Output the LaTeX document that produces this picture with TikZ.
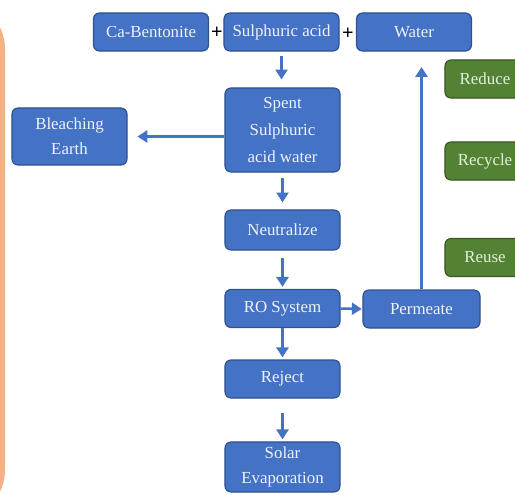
\documentclass[tikz,border=0pt]{standalone}
\usepackage{fontspec}
\setmainfont{Liberation Serif}
\usetikzlibrary{arrows.meta}
\definecolor{boxblue}{HTML}{4472C4}
\definecolor{boxedge}{HTML}{2F528F}
\definecolor{boxgreen}{HTML}{548235}
\definecolor{greenedge}{HTML}{385723}
\definecolor{sidebar}{HTML}{F4B183}
\definecolor{bluetext}{HTML}{EEF2FA}
\definecolor{greentext}{HTML}{E2F0D9}

\begin{document}
\begin{tikzpicture}[x=0.025cm,y=-0.025cm,
    box/.style={draw=boxedge,line width=0.8pt,fill=boxblue,rounded corners=0.15cm,
        text=bluetext,align=center,inner sep=0pt,
        minimum width=2.875cm,minimum height=0.95cm,
        font=\fontsize{12}{18}\selectfont},
    gbox/.style={box,draw=greenedge,fill=boxgreen,text=greentext,minimum width=2cm},
    flow/.style={draw=boxblue,line width=1.8pt,-{Triangle[width=8.5pt,length=7pt]}}]
    \useasboundingbox (0,0) rectangle (515,495);
    \clip (0,0) rectangle (515,495);

    \fill[sidebar,rounded corners=1.25cm] (-100,-1) rectangle (5,520);

    % inputs
    \node[box] (cabent) at (151,32) {Ca-Bentonite};
    \node[box] (sulph) at (281.5,32) {Sulphuric acid};
    \node[box] (water) at (414,32) {Water};
    \node[font=\bfseries\Large] (plusA) at (217,33) {+};
    \node[font=\bfseries\Large] (plusB) at (348,34) {+};

    % main line
    \node[box,minimum height=2.1cm,font=\fontsize{12}{19}\selectfont] (spent) at (282.5,130) {Spent\\Sulphuric\\acid water};
    \node[box,minimum height=1.425cm] (bleach) at (69.5,136.5) {Bleaching\\Earth};
    \node[box,minimum height=1cm] (neutral) at (282.5,230) {Neutralize};
    \node[box] (ro) at (282.5,308.5) {RO System};
    \node[box] (reject) at (282.5,379) {Reject};
    \node[box,minimum height=1.25cm] (solar) at (282.5,467) {Solar\\Evaporation};
    \node[box,minimum width=2.925cm] (permeate) at (421.5,309) {Permeate};

    % 3R
    \node[gbox] (reduce) at (485,79) {Reduce};
    \node[gbox] (recycle) at (485,161) {Recycle};
    \node[gbox] (reuse) at (485,257.5) {Reuse};

    \draw[flow,shorten <=2.8pt,shorten >=5.7pt] (sulph.south) -- (sulph.south |- spent.north);
    \draw[flow,shorten >=7pt] (spent.west |- bleach.east) -- (bleach.east);
    \draw[flow,shorten <=4pt,shorten >=5pt] (spent.south) -- (neutral.north);
    \draw[flow,shorten <=5.5pt,shorten >=1.5pt] (neutral.south) -- (ro.north);
    \draw[flow,shorten >=1.5pt] (ro.south) -- (reject.north);
    \draw[flow,shorten <=10pt,shorten >=1.5pt] (reject.south) -- (solar.north);
    \draw[flow,shorten >=0.5pt] (ro.east) -- (permeate.west);
    \draw[flow,shorten >=11pt] (permeate.north) -- (permeate.north |- water.south);
\end{tikzpicture}
\end{document}
